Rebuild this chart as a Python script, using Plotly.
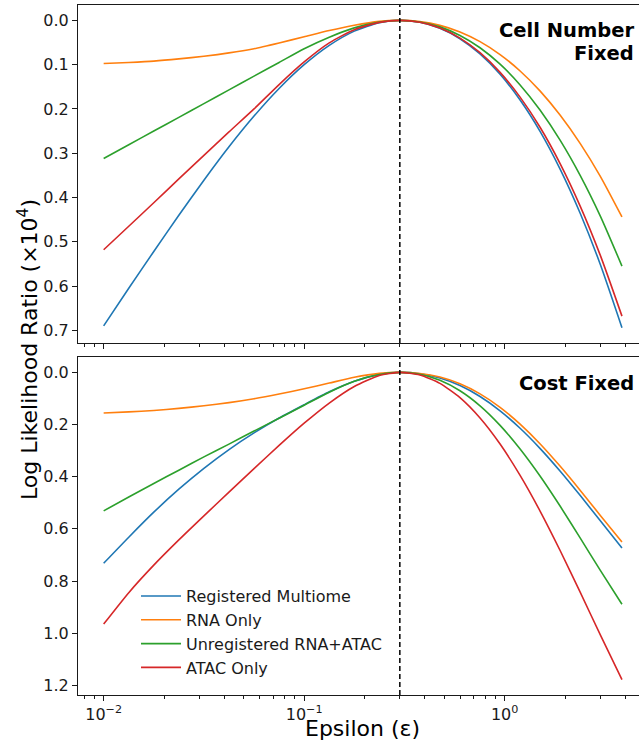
import plotly.graph_objects as go
from plotly.subplots import make_subplots

# Epsilon grid (log-spaced) shared by every curve; 0.3 is the optimum
epsilon = [0.01, 0.01334, 0.01778, 0.02371, 0.03162, 0.04217, 0.05623, 0.07499,
           0.1, 0.1334, 0.1778, 0.2371, 0.3,
           0.3777, 0.4755, 0.5986, 0.7536, 0.9487, 1.194, 1.504, 1.893, 2.383, 3.0, 3.846]
best_epsilon = 0.3

series_names = ["Registered Multiome", "RNA Only", "Unregistered RNA+ATAC", "ATAC Only"]
series_colors = ["#1f77b4", "#ff7f0e", "#2ca02c", "#d62728"]

# Log likelihood ratio (x10^4), cell number fixed
cell_fixed_registered = [0.690, 0.605, 0.522, 0.440, 0.361, 0.2856, 0.2162, 0.1539, 0.1002, 0.0565, 0.0243, 0.0051, 0.0,
                         0.0044, 0.0179, 0.0415, 0.0758, 0.1217, 0.1799, 0.2512, 0.3364, 0.4361, 0.5514, 0.694]
cell_fixed_rna = [0.0975, 0.095, 0.092, 0.087, 0.081, 0.0735, 0.064, 0.051, 0.037, 0.023, 0.011, 0.0022, 0.0,
                  0.0028, 0.0113, 0.0262, 0.048, 0.0772, 0.1143, 0.1598, 0.2144, 0.2783, 0.3523, 0.444]
cell_fixed_unregistered = [0.312, 0.281, 0.250, 0.219, 0.188, 0.157, 0.126, 0.095, 0.064, 0.038, 0.017, 0.0037, 0.0,
                           0.0036, 0.0147, 0.034, 0.0618, 0.099, 0.1458, 0.2031, 0.2711, 0.3506, 0.4421, 0.555]
cell_fixed_atac = [0.518, 0.465, 0.412, 0.358, 0.305, 0.252, 0.200, 0.145, 0.094, 0.051, 0.021, 0.0045, 0.0,
                   0.0042, 0.0173, 0.040, 0.0731, 0.1174, 0.1734, 0.242, 0.324, 0.420, 0.5308, 0.668]

# Log likelihood ratio (x10^4), cost fixed
cost_fixed_registered = [0.732, 0.632, 0.536, 0.448, 0.368, 0.296, 0.232, 0.175, 0.124, 0.0746, 0.0343, 0.0077, 0.0,
                         0.0052, 0.0217, 0.0506, 0.0925, 0.1474, 0.2143, 0.2922, 0.379, 0.4724, 0.5691, 0.673]
cost_fixed_rna = [0.156, 0.1515, 0.146, 0.138, 0.128, 0.116, 0.101, 0.083, 0.063, 0.041, 0.019, 0.004, 0.0,
                  0.0041, 0.018, 0.0437, 0.0823, 0.134, 0.1986, 0.2746, 0.3603, 0.4527, 0.5483, 0.650]
cost_fixed_unregistered = [0.531, 0.478, 0.426, 0.375, 0.324, 0.275, 0.225, 0.176, 0.126, 0.076, 0.034, 0.0085, 0.0,
                           0.0073, 0.0303, 0.0705, 0.1283, 0.2032, 0.2939, 0.3984, 0.5135, 0.6354, 0.7593, 0.889]
cost_fixed_atac = [0.965, 0.8445, 0.739, 0.6423, 0.55, 0.4592, 0.369, 0.2802, 0.195, 0.1177, 0.0542, 0.0121, 0.0,
                   0.0103, 0.0423, 0.0971, 0.175, 0.2749, 0.3951, 0.5327, 0.6839, 0.8438, 1.0067, 1.178]

top_ticks = [0.0, 0.1, 0.2, 0.3, 0.4, 0.5, 0.6, 0.7]
bottom_ticks = [0.0, 0.2, 0.4, 0.6, 0.8, 1.0, 1.2]
x_major = [0.01, 0.1, 1.0]
x_major_text = ["10<sup>\u22122</sup>", "10<sup>\u22121</sup>", "10<sup>0</sup>"]
x_minor = [0.008, 0.009, 0.02, 0.03, 0.04, 0.05, 0.06, 0.07, 0.08, 0.09,
           0.2, 0.3, 0.4, 0.5, 0.6, 0.7, 0.8, 0.9, 2, 3, 4]

panels = [
    [cell_fixed_registered, cell_fixed_rna, cell_fixed_unregistered, cell_fixed_atac],
    [cost_fixed_registered, cost_fixed_rna, cost_fixed_unregistered, cost_fixed_atac],
]

INK = "#1a1a1a"
FONT = "DejaVu Sans"

fig = make_subplots(rows=2, cols=1, shared_xaxes=True, vertical_spacing=14 / 690)


def padded_range(values):
    hi = max(max(v) for v in values)
    lo = min(min(v) for v in values)
    pad = 0.05 * (hi - lo)
    return [hi + pad, lo - pad]


y_ranges = []
for row, curves in enumerate(panels, start=1):
    for name, color, vals in zip(series_names, series_colors, curves):
        fig.add_trace(
            go.Scatter(
                x=epsilon, y=vals, mode="lines", name=name,
                line=dict(color=color, width=1.6, shape="spline", smoothing=0.6),
                showlegend=(row == 2),
            ),
            row=row, col=1,
        )
    yr = padded_range(curves)
    y_ranges.append(yr)
    # optimal epsilon marker spanning the whole panel
    fig.add_trace(
        go.Scatter(
            x=[best_epsilon, best_epsilon], y=yr, mode="lines", showlegend=False,
            line=dict(color="black", width=1.5, dash="5px,3px"), hoverinfo="skip",
        ),
        row=row, col=1,
    )

axis_common = dict(
    showline=True, linecolor=INK, linewidth=1, ticks="outside", ticklen=5,
    tickwidth=1, tickcolor=INK, showgrid=False, zeroline=False,
    tickfont=dict(size=16, color=INK, family=FONT),
)

x_log_range = [-2.128, 0.670]
for row in (1, 2):
    fig.update_xaxes(
        type="log", range=x_log_range, tickvals=x_major, ticktext=x_major_text,
        showticklabels=(row == 2), mirror=True,
        minor=dict(tickvals=x_minor, ticks="outside", ticklen=3, tickcolor=INK, tickwidth=1),
        **axis_common, row=row, col=1,
    )

fig.update_yaxes(range=y_ranges[0], tickvals=top_ticks,
                 ticktext=[f"{t:.1f}" for t in top_ticks], **axis_common, row=1, col=1)
fig.update_yaxes(range=y_ranges[1], tickvals=bottom_ticks,
                 ticktext=[f"{t:.1f}" for t in bottom_ticks], **axis_common, row=2, col=1)

panel_labels = [
    dict(text="<b>Cell Number</b>", x=0.9947, y=0.9637),
    dict(text="<b>Fixed</b>", x=0.9947, y=0.9290),
    dict(text="<b>Cost Fixed</b>", x=0.9947, y=0.452),
]
for a in panel_labels:
    fig.add_annotation(xref="paper", yref="paper", showarrow=False, xanchor="right",
                       yanchor="middle", font=dict(size=19.5, color="black", family=FONT), **a)

fig.add_annotation(text="Epsilon (\u03b5)", xref="paper", yref="paper", x=0.508, y=-0.048,
                   xanchor="center", yanchor="middle", showarrow=False,
                   font=dict(size=22, color="black", family=FONT))
fig.add_annotation(text="Log Likelihood Ratio (\u00d710<sup>4</sup>)", xref="paper", yref="paper",
                   x=-0.089, y=0.5, xanchor="center", yanchor="middle", textangle=-90,
                   showarrow=False, font=dict(size=22, color="black", family=FONT))

fig.update_layout(
    width=639, height=746,
    margin=dict(l=78, r=0, t=5, b=51),
    plot_bgcolor="white", paper_bgcolor="white",
    font=dict(family=FONT, color=INK),
    legend=dict(x=0.1034, y=0.168, xanchor="left", yanchor="top", itemwidth=40,
                bgcolor="rgba(0,0,0,0)", font=dict(size=16, color=INK, family=FONT),
                traceorder="normal"),
)

fig.write_html("out.html")
